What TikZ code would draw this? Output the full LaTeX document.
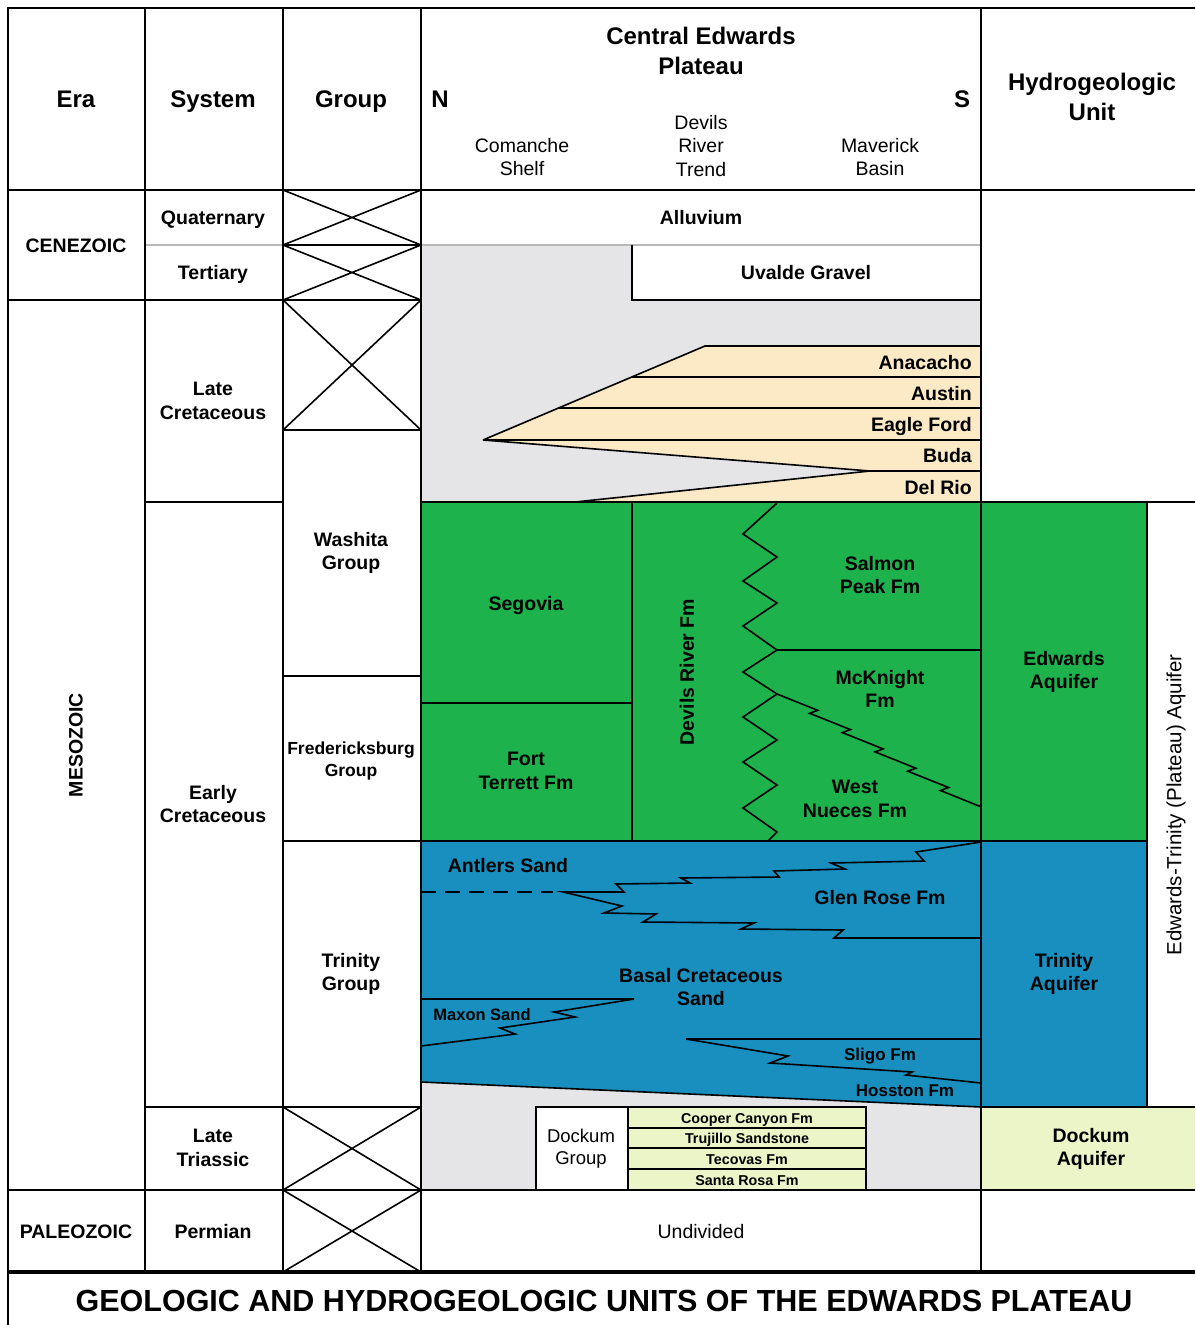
\documentclass[tikz,border=0pt]{standalone}
\usepackage{fontspec}
\setmainfont{Liberation Sans}
\usetikzlibrary{calc}
\definecolor{gry}{RGB}{229,229,232}
\definecolor{wtan}{RGB}{252,233,197}
\definecolor{grn}{RGB}{30,178,76}
\definecolor{blu}{RGB}{24,143,190}
\definecolor{ylw}{RGB}{236,245,199}
\begin{document}
\begin{tikzpicture}[x=1pt,y=-1pt,
  ln/.style={line width=1.6pt, black},
  bd/.style={line width=2.4pt, black},
  gl/.style={line width=1.6pt, black!28},
  hdr/.style={font=\bfseries\fontsize{24}{29.5}\selectfont, align=center, inner sep=0pt},
  lbl/.style={font=\bfseries\fontsize{19.5}{23.5}\selectfont, align=center, inner sep=0pt},
  reg/.style={font=\fontsize{19.5}{23.5}\selectfont, align=center, inner sep=0pt},
  sml/.style={font=\bfseries\fontsize{14.3}{17}\selectfont, align=center, inner sep=0pt}]
\useasboundingbox (0,0) rectangle (1195,1325);
\fill[white] (0,0) rectangle (1195,1325);

% ---------- fills ----------
\fill[gry] (421,245) rectangle (981,502);
\fill[white] (632,245) rectangle (981,300);
\fill[wtan] (705,346) -- (981,346) -- (981,502) -- (575,502) -- (870,471) -- (483,440) -- cycle;
\fill[grn] (421,502) rectangle (1147,841);
\fill[gry] (421,1075) rectangle (981,1190);
\fill[blu] (421,841) -- (1147,841) -- (1147,1107) -- (981,1107) -- (421,1082) -- cycle;
\fill[white] (536,1107) rectangle (628,1190);
\fill[ylw] (628,1107) rectangle (866,1190);
\fill[ylw] (981,1107) rectangle (1195,1190);

% ---------- light lines ----------
\draw[gl] (145,245) -- (283,245);
\draw[gl] (421,245) -- (981,245);

% ---------- Upper Cretaceous wedge ----------
\coordinate (apex) at (483,440);
\coordinate (wtop) at (705,346);
\draw[ln] (apex) -- (wtop) -- (981,346);
\draw[ln] ($(apex)!0.670!(wtop)$) -- (981,377);
\draw[ln] ($(apex)!0.340!(wtop)$) -- (981,408);
\draw[ln] (apex) -- (981,440);
\draw[ln] (apex) -- (870,471) -- (575,502);
\draw[ln] (870,471) -- (981,471);

% ---------- Uvalde ----------
\draw[ln] (632,245) -- (632,300) -- (981,300);

% ---------- grid ----------
\draw[ln] (8,300) -- (421,300);
\draw[ln] (283,245) -- (421,245);
\draw[ln] (283,430) -- (421,430);
\draw[ln] (145,502) -- (283,502);
\draw[ln] (421,502) -- (1195,502);
\draw[ln] (283,676) -- (421,676);
\draw[ln] (283,841) -- (1147,841);
\draw[ln] (421,703) -- (632,703);
\draw[ln] (632,502) -- (632,841);
\draw[ln] (777,650) -- (981,650);
\draw[ln] (145,1107) -- (421,1107);
\draw[ln] (981,1107) -- (1195,1107);
\draw[ln] (8,1190) -- (1195,1190);
\draw[ln] (1147,502) -- (1147,1107);
\foreach \x in {145,283,421,981} \draw[ln] (\x,8) -- (\x,1272);
\foreach \a/\b in {190/245,245/300,300/430,1107/1190,1190/1272}
  \draw[ln] (283,\a) -- (421,\b) (283,\b) -- (421,\a);

% ---------- Devils River zigzag ----------
\draw[ln] (777,503) -- (743,534) -- (777,557) -- (743,581) -- (777,603) -- (743,626) -- (777,650)
  -- (743,672) -- (777,694) -- (743,717) -- (777,740) -- (743,762) -- (777,785) -- (743,808)
  -- (777,832) -- (768,841);
% McKnight / West Nueces
\draw[ln] (777,694) -- (817.7,710.3) -- (809.7,713.3) -- (850.4,729.6) -- (842.4,732.6)
  -- (883.1,748.9) -- (875.1,751.9) -- (915.8,768.2) -- (907.8,771.2) -- (948.5,787.5)
  -- (940.5,790.5) -- (981,806.8);

% ---------- Trinity ----------
\draw[ln] (981,842) -- (916,852) -- (924,861) -- (831,863) -- (845,869) -- (774,871) -- (779,877)
  -- (681,878) -- (690,883) -- (616,884) -- (624,892) -- (563,892) -- (622,906) -- (604,913)
  -- (656,914) -- (643,922) -- (754,923) -- (741,929) -- (843,930) -- (834,938) -- (981,938);
\draw[ln, dash pattern=on 15pt off 9pt] (421,892) -- (553,892);
\draw[ln] (421,999) -- (634,999) -- (554,1012) -- (575,1017) -- (500,1028) -- (515,1034) -- (421,1046);
\draw[ln] (686,1039) -- (981,1039);
\draw[ln] (686,1039) -- (788,1056) -- (770,1063) -- (912,1072) -- (906,1075) -- (981,1083);
\draw[ln] (421,1082) -- (981,1107);

% ---------- Dockum ----------
\draw[ln] (536,1190) -- (536,1107) -- (866,1107) -- (866,1190);
\draw[ln] (628,1107) -- (628,1190);
\foreach \y in {1128,1148,1169} \draw[ln] (628,\y) -- (866,\y);

% ---------- borders ----------
\draw[bd] (1195,8) -- (8,8) -- (8,1325);
\draw[bd] (8,190) -- (1195,190);
\draw[line width=4pt] (8,1272) -- (1195,1272);

% ---------- header text ----------
\node[hdr, anchor=base] (hEra) at (76,107) {Era};
\node[hdr, anchor=base] (hSys) at (213,107) {System};
\node[hdr, anchor=base] (hGrp) at (351,107) {Group};
\node[hdr] (hCEP) at (701,51) {Central Edwards\\Plateau};
\node[hdr, anchor=base] (hN) at (440,107) {N};
\node[hdr, anchor=base] (hS) at (962,107) {S};
\node[reg] (hCom) at (522,157) {Comanche\\Shelf};
\node[reg] (hDRT) at (701,146) {Devils\\River\\Trend};
\node[reg] (hMav) at (880,157) {Maverick\\Basin};
\node[hdr] (hHyd) at (1092,97) {Hydrogeologic\\Unit};

% ---------- era / system / group ----------
\node[lbl, anchor=base] (eCen) at (76,252) {CENEZOIC};
\node[lbl, rotate=90] (eMes) at (76,745) {MESOZOIC};
\node[lbl, anchor=base] (ePal) at (76,1238) {PALEOZOIC};
\node[lbl, anchor=base] (sQua) at (213,224) {Quaternary};
\node[lbl, anchor=base] (sTer) at (213,279) {Tertiary};
\node[lbl] (sLK) at (213,401) {Late\\Cretaceous};
\node[lbl] (sEK) at (213,804) {Early\\Cretaceous};
\node[lbl] (sLT) at (213,1148) {Late\\Triassic};
\node[lbl, anchor=base] (sPer) at (213,1238) {Permian};
\node[lbl] (gWas) at (351,553) {Washita\\Group};
\node[lbl, font=\bfseries\fontsize{17.5}{22}\selectfont] (gFre) at (351,761) {Fredericksburg\\Group};
\node[lbl] (gTri) at (351,974) {Trinity\\Group};

% ---------- central text ----------
\node[lbl, anchor=base] (tAll) at (701,224) {Alluvium};
\node[lbl, anchor=base] (tUva) at (806,279) {Uvalde Gravel};
\node[lbl, anchor=base east] (tAna) at (972,369) {Anacacho};
\node[lbl, anchor=base east] (tAus) at (972,400) {Austin};
\node[lbl, anchor=base east] (tEag) at (972,431) {Eagle Ford};
\node[lbl, anchor=base east] (tBud) at (972,462) {Buda};
\node[lbl, anchor=base east] (tDel) at (972,494) {Del Rio};
\node[lbl, anchor=base] (tSeg) at (526,610) {Segovia};
\node[lbl] (tFT) at (526,771) {Fort\\Terrett Fm};
\node[lbl, rotate=90] (tDR) at (687,672) {Devils River Fm};
\node[lbl] (tSP) at (880,575) {Salmon\\Peak Fm};
\node[lbl] (tMK) at (880,689) {McKnight\\Fm};
\node[lbl] (tWN) at (855,799) {West\\Nueces Fm};
\node[lbl, anchor=base] (tAnt) at (508,872) {Antlers Sand};
\node[lbl, anchor=base] (tGR) at (880,904) {Glen Rose Fm};
\node[lbl] (tBCS) at (701,987) {Basal Cretaceous\\Sand};
\node[lbl, font=\bfseries\fontsize{16.5}{20}\selectfont, anchor=base] (tMax) at (482,1020) {Maxon Sand};
\node[lbl, font=\bfseries\fontsize{17}{20}\selectfont, anchor=base] (tSli) at (880,1060) {Sligo Fm};
\node[lbl, font=\bfseries\fontsize{17}{20}\selectfont, anchor=base] (tHos) at (905,1096) {Hosston Fm};
\node[reg, font=\fontsize{18.5}{22}\selectfont] (tDG) at (581,1149) {Dockum\\Group};
\node[sml, anchor=base] (tCC) at (747,1123) {Cooper Canyon Fm};
\node[sml, anchor=base] (tTS) at (747,1143) {Trujillo Sandstone};
\node[sml, anchor=base] (tTec) at (747,1164) {Tecovas Fm};
\node[sml, anchor=base] (tSR) at (747,1185) {Santa Rosa Fm};
\node[reg, anchor=base] (tUnd) at (701,1238) {Undivided};

% ---------- hydro text ----------
\node[lbl] (aEdw) at (1064,672) {Edwards\\Aquifer};
\node[lbl] (aTri) at (1064,974) {Trinity\\Aquifer};
\node[reg, rotate=90, font=\fontsize{20.5}{24}\selectfont] (aET) at (1176,805) {Edwards-Trinity (Plateau) Aquifer};
\node[lbl] (aDoc) at (1091,1149) {Dockum\\Aquifer};

% ---------- title ----------
\node[inner sep=0pt, anchor=base, font=\bfseries\fontsize{30.5}{36}\selectfont] (title) at (604,1311) {GEOLOGIC AND HYDROGEOLOGIC UNITS OF THE EDWARDS PLATEAU};
\end{tikzpicture}
\end{document}
